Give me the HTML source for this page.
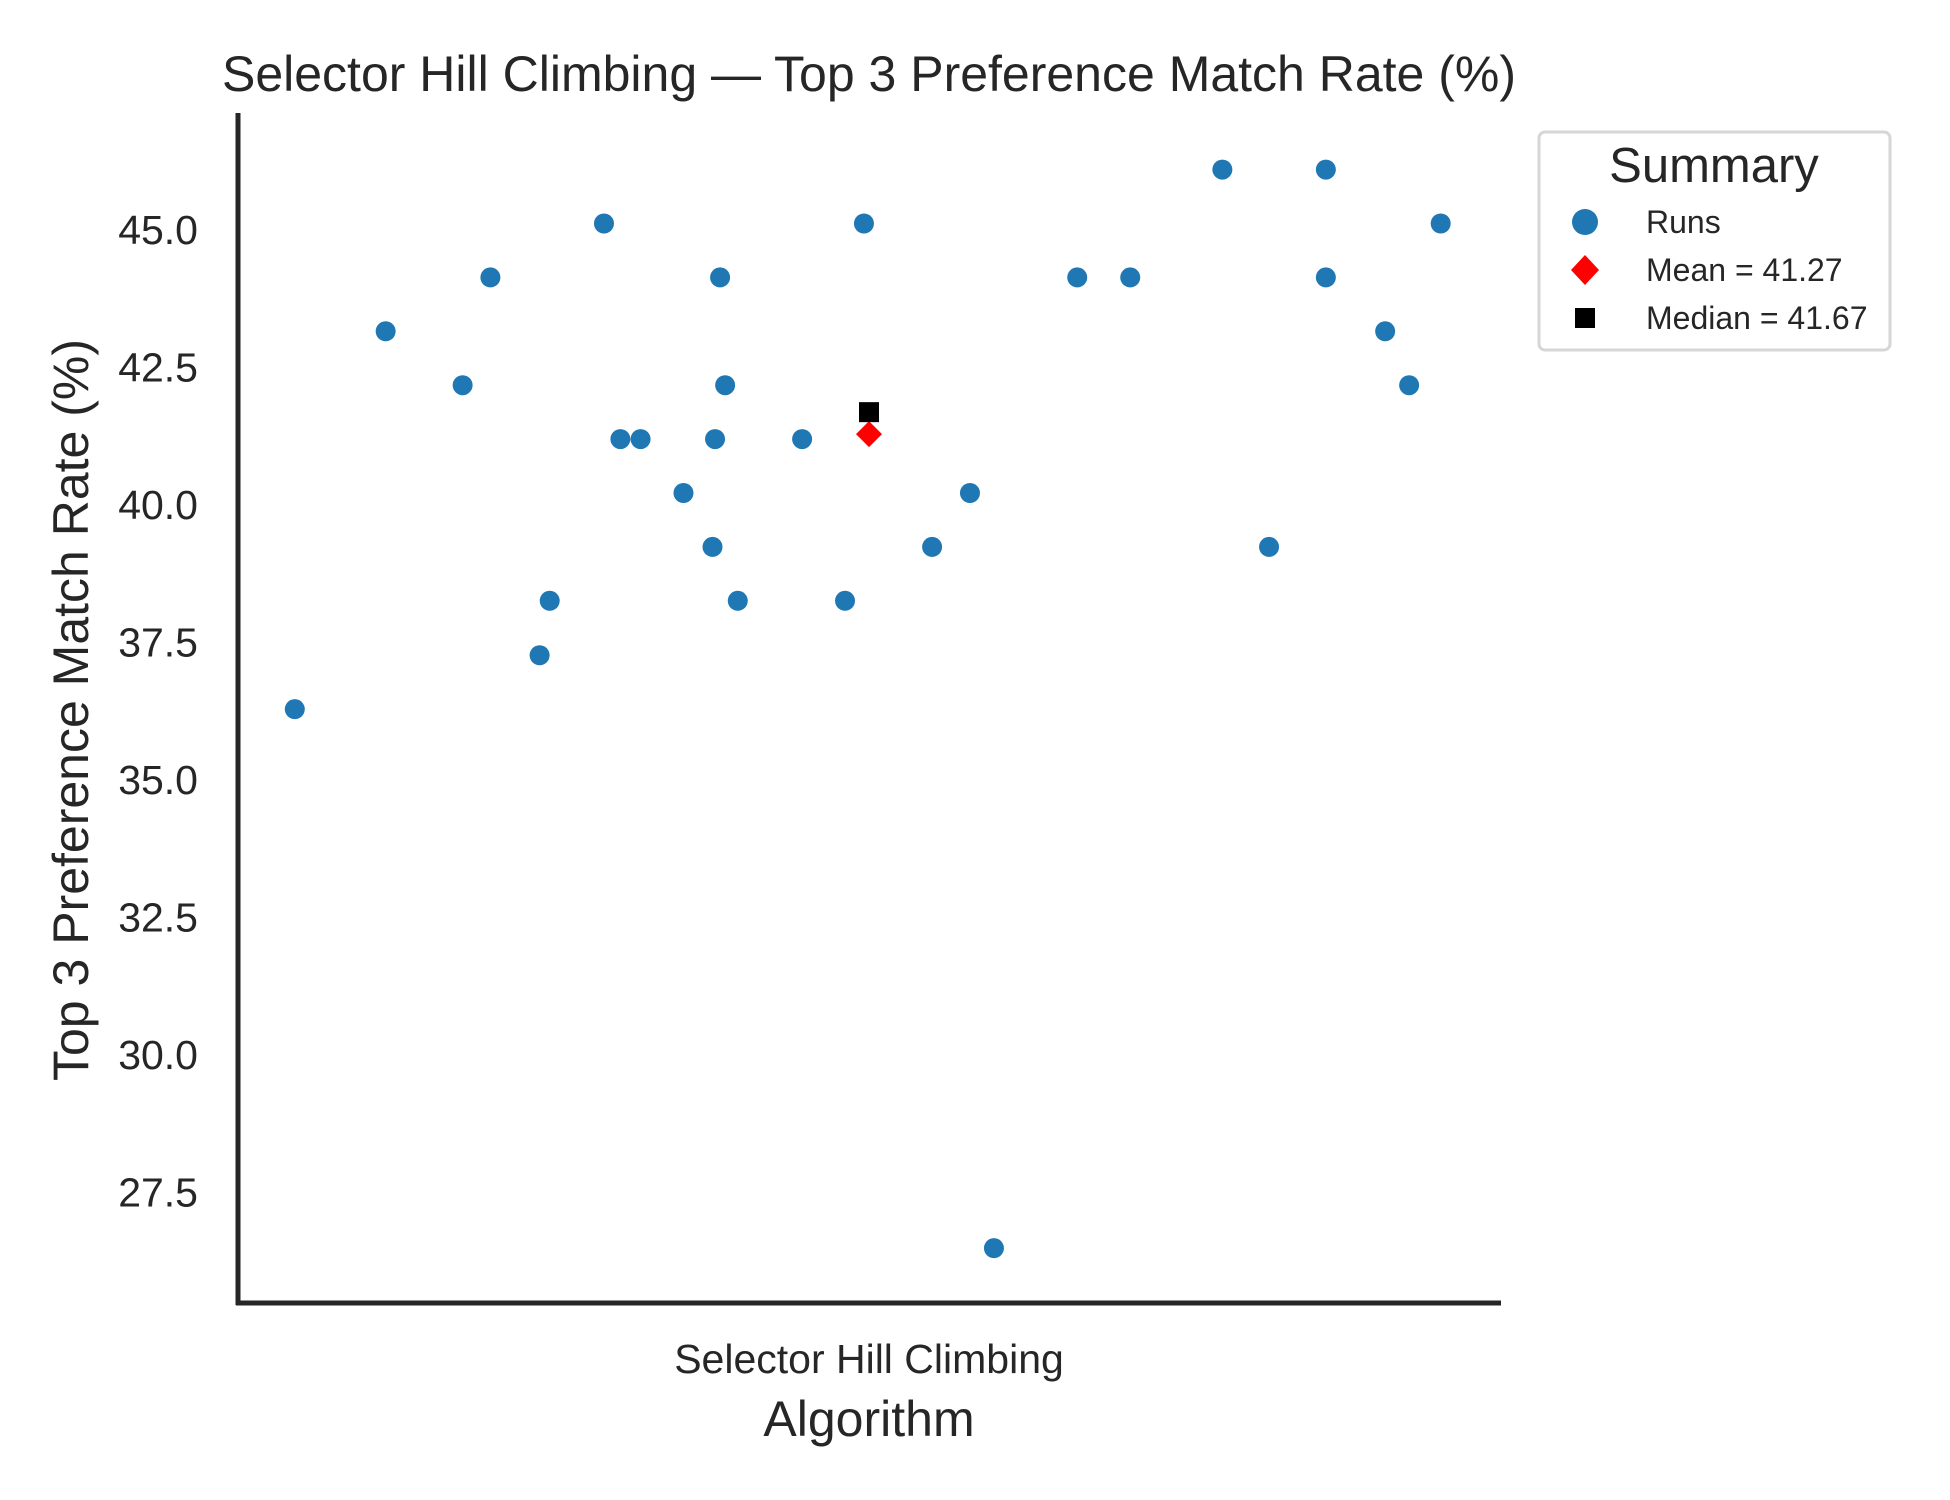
<!DOCTYPE html>
<html><head><meta charset="utf-8"><style>
html,body{margin:0;padding:0;background:#fff;}
svg{display:block;font-family:"Liberation Sans",Arial,sans-serif;}
</style></head><body>
<svg id="chart" width="1950" height="1500" viewBox="0 0 1950 1500" xmlns="http://www.w3.org/2000/svg">
<rect width="1950" height="1500" fill="#fff"/>
<text x="869" y="91" font-size="50" fill="#262626" text-anchor="middle">Selector Hill Climbing — Top 3 Preference Match Rate (%)</text>
<g id="yticks"></g>
<g id="points"></g>
<line x1="238" y1="113" x2="238" y2="1305" stroke="#262626" stroke-width="5"/>
<line x1="236" y1="1303" x2="1501" y2="1303" stroke="#262626" stroke-width="5"/>
<text x="869" y="1373" font-size="41" fill="#262626" text-anchor="middle">Selector Hill Climbing</text>
<text x="869" y="1436" font-size="50" fill="#262626" text-anchor="middle">Algorithm</text>
<text transform="translate(88,710) rotate(-90)" font-size="50" fill="#262626" text-anchor="middle">Top 3 Preference Match Rate (%)</text>
<g transform="translate(-9,0)">
<rect x="1548" y="132" width="351" height="218" rx="6" fill="#fff" stroke="#d6d6d6" stroke-width="3"/>
<text x="1723" y="182" font-size="49" fill="#262626" text-anchor="middle">Summary</text>
<circle cx="1594" cy="222" r="13" fill="#1f77b4"/>
<text x="1655" y="233" font-size="32" fill="#262626">Runs</text>
<path d="M1594 255 L1608 270 L1594 285 L1580 270 Z" fill="#ff0000"/>
<text x="1655" y="281" font-size="32" fill="#262626">Mean = 41.27</text>
<rect x="1584" y="308" width="20" height="20" fill="#000"/>
<text x="1655" y="329" font-size="32" fill="#262626">Median = 41.67</text>
</g>
</svg>
<script>
const yTicks = [27.5, 30.0, 32.5, 35.0, 37.5, 40.0, 42.5, 45.0];
const yTickLabels = ["27.5","30.0","32.5","35.0","37.5","40.0","42.5","45.0"];
const jitter = [-0.455,-0.383,-0.322,-0.300,-0.261,-0.253,-0.210,-0.197,-0.181,-0.147,-0.124,-0.122,-0.118,-0.114,-0.104,-0.053,-0.019,-0.004,0.050,0.080,0.099,0.165,0.207,0.280,0.317,0.362,0.362,0.409,0.428,0.453];
const values = [36.27,43.14,42.16,44.12,37.25,38.24,45.10,41.18,41.18,40.20,39.22,41.18,44.12,42.16,38.24,41.18,38.24,45.10,39.22,40.20,26.47,44.12,44.12,46.08,39.22,46.08,44.12,43.14,42.16,45.10];
const meanValue = 41.27;
const medianValue = 41.67;

const NS = "http://www.w3.org/2000/svg";
function yScale(v){ return 229 + (45 - v) * 55.0; }
function xScale(o){ return 869 + o * 1262; }

const yt = document.getElementById('yticks');
yTicks.forEach((v,i)=>{
  const t = document.createElementNS(NS,'text');
  
  
  t.setAttribute('x', 198);
  t.setAttribute('y', yScale(v) + 15);
  t.setAttribute('font-size', 41);
  t.setAttribute('fill', '#262626');
  t.setAttribute('text-anchor', 'end');
  t.textContent = yTickLabels[i];
  yt.appendChild(t);
});

const pg = document.getElementById('points');
values.forEach((v,i)=>{
  const c = document.createElementNS(NS,'circle');
  
  
  c.setAttribute('cx', xScale(jitter[i]));
  c.setAttribute('cy', yScale(v));
  c.setAttribute('r', 10);
  c.setAttribute('fill', '#1f77b4');
  pg.appendChild(c);
});

const mx = xScale(0), my = yScale(meanValue);
const d = document.createElementNS(NS,'path');


d.setAttribute('d', `M${mx} ${my-13} L${mx+13} ${my} L${mx} ${my+13} L${mx-13} ${my} Z`);
d.setAttribute('fill','#ff0000');
pg.appendChild(d);

const sy = yScale(medianValue);
const s = document.createElementNS(NS,'rect');


s.setAttribute('x', mx - 10);
s.setAttribute('y', sy - 10);
s.setAttribute('width', 20);
s.setAttribute('height', 20);
s.setAttribute('fill','#000');
pg.appendChild(s);
</script>
</body></html>
